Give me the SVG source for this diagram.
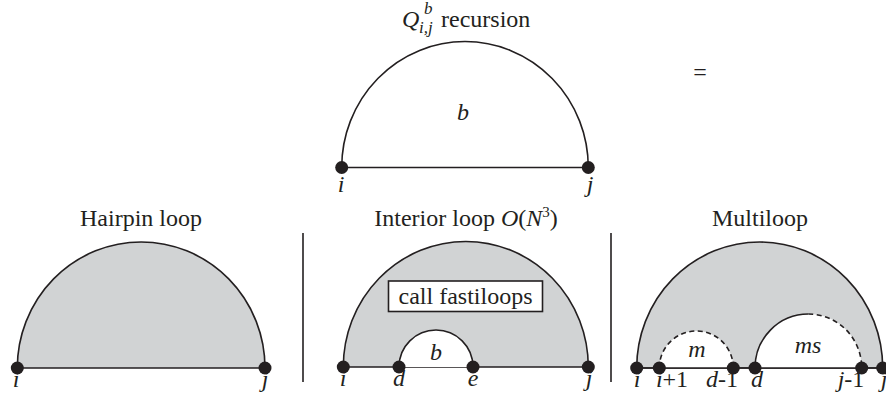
<svg xmlns="http://www.w3.org/2000/svg" width="886" height="404" viewBox="0 0 886 404">
<style>
.t{font-family:"Liberation Serif","Times New Roman",serif;font-size:24px;fill:#231f20}
.it{font-style:italic}
.s{font-size:17px}
.ln{fill:none;stroke:#231f20;stroke-width:1.6}
.sh{fill:#d1d3d4;stroke:#231f20;stroke-width:1.6}
.wh{fill:#fff;stroke:none}
.ds{fill:none;stroke:#231f20;stroke-width:1.6;stroke-dasharray:5 3.5}
.dot{fill:#231f20}
</style>
<g id="top">
<text class="t it" x="402" y="27">Q</text>
<text class="t it s" x="424" y="14">b</text>
<text class="t it s" x="419" y="33">i,j</text>
<text class="t" x="441" y="27">recursion</text>
<path class="ln" d="M341.7 167.5 A123.3 126 0 0 1 588.3 167.5 Z"/>
<text class="t it" x="463" y="120" text-anchor="middle">b</text>
<circle class="dot" cx="341.7" cy="167.5" r="6.5"/>
<circle class="dot" cx="588.3" cy="167.5" r="6.5"/>
<text class="t it" x="341" y="192" text-anchor="middle">i</text>
<text class="t it" x="590" y="192" text-anchor="middle">j</text>
<text class="t" x="700" y="80" text-anchor="middle">=</text>
</g>
<g id="hairpin">
<text class="t" x="141" y="226" text-anchor="middle">Hairpin loop</text>
<path class="sh" d="M17.3 368 A123.8 126 0 0 1 265 368 Z"/>
<circle class="dot" cx="17.3" cy="368" r="6.5"/>
<circle class="dot" cx="265" cy="368" r="6.5"/>
<text class="t it" x="16" y="387" text-anchor="middle">i</text>
<text class="t it" x="265" y="387" text-anchor="middle">j</text>
</g>
<g id="dividers">
<line class="ln" x1="303" y1="233" x2="303" y2="382"/>
<line class="ln" x1="611" y1="233" x2="611" y2="382"/>
</g>
<g id="interior">
<text class="t" x="466" y="226" text-anchor="middle">Interior loop <tspan class="it">O</tspan>(<tspan class="it">N</tspan><tspan font-size="15" dy="-9">3</tspan><tspan dy="9">)</tspan></text>
<path class="sh" d="M343.3 367 A122.5 125.5 0 0 1 588.3 367 Z"/>
<path class="wh" d="M399 367 A37 37 0 0 1 473 367 Z"/>
<path class="ln" d="M399 367 A37 37 0 0 1 473 367"/>
<rect x="388.5" y="281" width="154" height="30.5" fill="#fff" stroke="#231f20" stroke-width="1.6"/>
<text class="t" x="465.5" y="304" text-anchor="middle">call fastiloops</text>
<text class="t it" x="436" y="360" text-anchor="middle">b</text>
<circle class="dot" cx="343.3" cy="367" r="6.5"/>
<circle class="dot" cx="399" cy="367" r="6.5"/>
<circle class="dot" cx="473" cy="367" r="6.5"/>
<circle class="dot" cx="588.3" cy="367" r="6.5"/>
<text class="t it" x="343" y="386" text-anchor="middle">i</text>
<text class="t it" x="399" y="386" text-anchor="middle">d</text>
<text class="t it" x="473" y="386" text-anchor="middle">e</text>
<text class="t it" x="589" y="386" text-anchor="middle">j</text>
</g>
<g id="multiloop">
<text class="t" x="760" y="226" text-anchor="middle">Multiloop</text>
<path class="sh" d="M636.7 368 A123 126 0 0 1 882.7 368 Z"/>
<path class="wh" d="M659.3 368 A37 37 0 0 1 733.3 368 Z"/>
<path class="ds" d="M659.3 368 A37 37 0 0 1 733.3 368"/>
<path class="wh" d="M755 368 A53.3 54 0 0 1 861.7 368 Z"/>
<path class="ln" d="M755 368 A53.3 54 0 0 1 808.3 314"/>
<path class="ds" d="M808.3 314 A53.3 54 0 0 1 861.7 368"/>
<line class="ln" x1="636.7" y1="368" x2="882.7" y2="368"/>
<text class="t it" x="697" y="357" text-anchor="middle">m</text>
<text class="t it" x="808" y="353" text-anchor="middle">ms</text>
<circle class="dot" cx="636.7" cy="368" r="6.5"/>
<circle class="dot" cx="659.3" cy="368" r="6.5"/>
<circle class="dot" cx="733.3" cy="368" r="6.5"/>
<circle class="dot" cx="755" cy="368" r="6.5"/>
<circle class="dot" cx="861.7" cy="368" r="6.5"/>
<circle class="dot" cx="882.7" cy="368" r="6.5"/>
<text class="t it" x="637" y="387" text-anchor="middle">i</text>
<text class="t" x="672" y="387" text-anchor="middle"><tspan class="it">i</tspan>+1</text>
<text class="t" x="722" y="387" text-anchor="middle"><tspan class="it">d</tspan>-1</text>
<text class="t it" x="757" y="387" text-anchor="middle">d</text>
<text class="t" x="851" y="387" text-anchor="middle"><tspan class="it">j</tspan>-1</text>
<text class="t it" x="884" y="387" text-anchor="middle">j</text>
</g>
</svg>
